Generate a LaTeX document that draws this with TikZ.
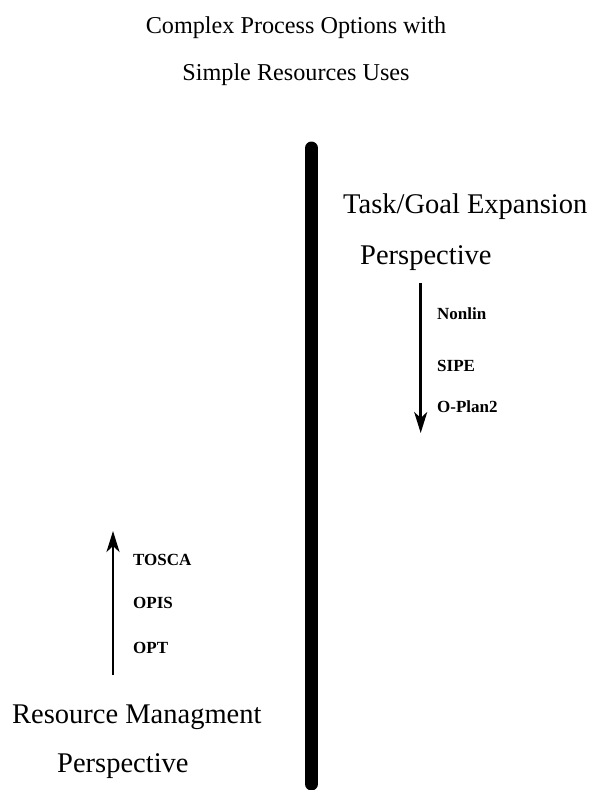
\documentclass[tikz,border=0pt]{standalone}
\usepackage{fontspec}
\setmainfont{Liberation Serif}
\usetikzlibrary{arrows.meta}
\begin{document}
\begin{tikzpicture}[x=1pt,y=-1pt,
  heading/.style={font=\fontsize{24.2}{29}\selectfont, anchor=base, inner sep=0pt},
  perspective/.style={font=\fontsize{28.5}{34}\selectfont, anchor=base west, inner sep=0pt},
  system/.style={font=\fontsize{17}{20}\selectfont\bfseries, anchor=base west, inner sep=0pt},
  flow/.style={line width=2.6pt, -{Stealth[length=21pt, width=13pt, inset=6pt]}},
  divider/.style={line width=13pt, line cap=round}]
\useasboundingbox (0,0) rectangle (592,790);

% title
\node[heading] (t1) at (296,33) {Complex Process Options with};
\node[heading] (t2) at (296,80) {Simple Resources Uses};

% central divider
\coordinate (barTop) at (311.5,148);
\coordinate (barBot) at (311.5,784);
\draw[divider] (barTop) -- (barBot);

% task/goal expansion side
\node[perspective] (tg1) at (343,213) {Task/Goal Expansion};
\node[perspective] (tg2) at (360,264) {Perspective};
\coordinate (dnStart) at (420.7,283);
\coordinate (dnEnd) at (420.7,433);
\draw[flow] (dnStart) -- (dnEnd);
\node[system] (nonlin) at (437,319) {Nonlin};
\node[system] (sipe) at (437,371) {SIPE};
\node[system] (oplan) at (437,412) {O-Plan2};

% resource management side
\coordinate (upStart) at (113,675);
\coordinate (upEnd) at (113,531);
\draw[flow] (upStart) -- (upEnd);
\node[system] (tosca) at (133,565) {TOSCA};
\node[system] (opis) at (133,608) {OPIS};
\node[system] (opt) at (133,653) {OPT};
\node[perspective] (rm1) at (12,723) {Resource Managment};
\node[perspective] (rm2) at (57,772) {Perspective};
\end{tikzpicture}
\end{document}
